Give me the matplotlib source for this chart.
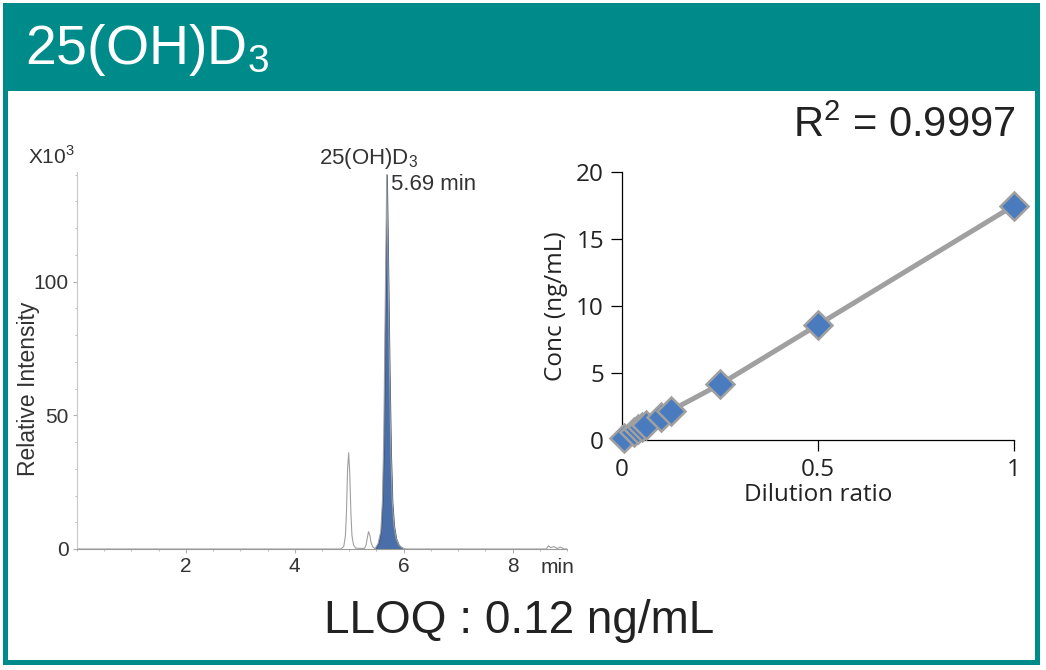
import matplotlib.pyplot as plt
from matplotlib.patches import Rectangle
from matplotlib.ticker import MultipleLocator

plt.rcParams['font.family'] = ['Liberation Sans', 'DejaVu Sans']

TEAL = '#008b8b'

# chromatogram trace (retention time in min, intensity x10^3)
rt = [0.0, 4.85, 4.90, 4.93, 4.95, 4.97, 4.99, 5.01, 5.03, 5.05, 5.08, 5.12,
      5.28, 5.31, 5.33, 5.355, 5.38, 5.40, 5.43, 5.47,
      5.48, 5.53, 5.58, 5.61, 5.635, 5.66, 5.69, 5.715, 5.74, 5.765, 5.79,
      5.82, 5.86, 5.91, 5.97, 6.05,
      8.62, 8.66, 8.70, 8.76, 8.82, 8.88, 8.95, 9.0]
intensity = [0.0, 0.0, 1.0, 5.0, 14.0, 30.0, 36.0, 28.0, 14.0, 5.0, 1.5, 0.3,
             0.2, 1.5, 4.0, 6.5, 5.0, 2.5, 0.8, 0.2,
             0.3, 2.0, 6.5, 18.0, 42.0, 88.0, 140.0, 104.0, 66.0, 36.0, 18.0,
             9.0, 4.0, 1.5, 0.4, 0.0,
             0.0, 1.2, 0.5, 0.9, 0.2, 0.7, 0.0, 0.0]
peak_start, peak_end = 5.48, 5.97

# dilution linearity
dilution = [0.005, 0.03, 0.04, 0.05, 0.06, 0.1, 0.125, 0.25, 0.5, 1.0]
conc = [0.12, 0.6, 0.8, 0.95, 1.1, 1.7, 2.2, 4.15, 8.6, 17.5]

fig = plt.figure(figsize=(10.46, 6.7), dpi=100)
W, H = 1046, 670

# frame + header band (behind the axes)
fig.add_artist(Rectangle((3 / W, 1 - 665 / H), 1037 / W, 662 / H, zorder=-2,
                         transform=fig.transFigure, facecolor=TEAL, edgecolor='none'))
fig.add_artist(Rectangle((8 / W, 1 - 660 / H), 1027 / W, 569 / H, zorder=-1,
                         transform=fig.transFigure, facecolor='white', edgecolor='none'))
fig.text(25 / W, 1 - 64 / H, r'$\mathregular{25(OH)D_3}$', color='white',
         fontsize=40, ha='left', va='baseline')

# chromatogram
ax1 = fig.add_axes([77 / W, 1 - 549 / H, 490 / W, 377 / H])
ax1.patch.set_alpha(0)
ax1.plot(rt, intensity, color='#a0a0a0', lw=0.8)
sel = [i for i, t in enumerate(rt) if peak_start <= t <= peak_end]
ax1.fill_between([rt[i] for i in sel], [intensity[i] for i in sel],
                 color='#4a6fa8', edgecolor='#2c4a7e', lw=0.8)
ax1.set_xlim(0, 9)
ax1.set_ylim(0, 141)
for s in ['top', 'right']:
    ax1.spines[s].set_visible(False)
ax1.spines['left'].set_color('#c8c8c8')
ax1.spines['bottom'].set_color('#9a9a9a')
ax1.set_xticks([2, 4, 6, 8])
ax1.set_yticks([0, 50, 100])
ax1.xaxis.set_minor_locator(MultipleLocator(0.5))
ax1.yaxis.set_minor_locator(MultipleLocator(10))
ax1.tick_params(which='both', color='#b0b0b0', labelsize=15, labelcolor='#333333')
ax1.tick_params(which='major', length=3, pad=3)
ax1.tick_params(which='minor', length=1.5)
ax1.set_ylabel('Relative Intensity', fontsize=16.5, color='#333333')
ax1.yaxis.set_label_coords(-0.075, 0.424)
ax1.text(-0.053, 1.01, r'X10$^\mathregular{3}$', transform=ax1.transAxes,
         fontsize=15, color='#333333', ha='center', va='bottom')
ax1.text(8.83, -0.024 * 141, 'min', fontsize=15, color='#333333', ha='center', va='top')
ax1.text(5.35, 144, r'$\mathregular{25(OH)D_3}$', fontsize=16, color='#333333',
         ha='center', va='baseline', clip_on=False)
ax1.text(5.76, 136.5, '5.69 min', fontsize=16, color='#333333', ha='left', va='center')

# dilution linearity plot
ax2 = fig.add_axes([622 / W, 1 - 440 / H, 392 / W, 268 / H])
ax2.patch.set_alpha(0)
ax2.plot(dilution, conc, color='#a0a0a0', lw=3.6, zorder=2, clip_on=False)
ax2.plot(dilution, conc, 'D', ms=14, mfc='#4a7bbf', mec='#a0a0a0', mew=1.8,
         zorder=3, clip_on=False)
ax2.set_xlim(0, 1)
ax2.set_ylim(0, 20)
ax2.set_xticks([0, 0.5, 1])
ax2.set_xticklabels(['0', '0.5', '1'])
ax2.set_yticks([0, 5, 10, 15, 20])
for s in ['top', 'right']:
    ax2.spines[s].set_visible(False)
for s in ['left', 'bottom']:
    ax2.spines[s].set_linewidth(0.9)
ax2.tick_params(length=8, width=0.9, pad=5, labelsize=17.5, labelcolor='#222222')
for lab in ax2.get_xticklabels() + ax2.get_yticklabels():
    lab.set_family(['Open Sans', 'DejaVu Sans'])
ax2.set_xlabel('Dilution ratio', fontsize=17.5, family=['Open Sans', 'DejaVu Sans'],
               color='#222222', labelpad=1)
ax2.set_ylabel('Conc (ng/mL)', fontsize=17.5, family=['Open Sans', 'DejaVu Sans'],
               color='#222222')
ax2.yaxis.set_label_coords(-0.137, 0.5)

fig.text(1015 / W, 1 - 137 / H, r'$\mathregular{R^2}$ = 0.9997', fontsize=30,
         color='#222222', ha='right', va='baseline')
fig.text(519 / W, 1 - 633 / H, 'LLOQ : 0.12 ng/mL', fontsize=33,
         color='#222222', ha='center', va='baseline')

fig.savefig('out.png', dpi=100)
